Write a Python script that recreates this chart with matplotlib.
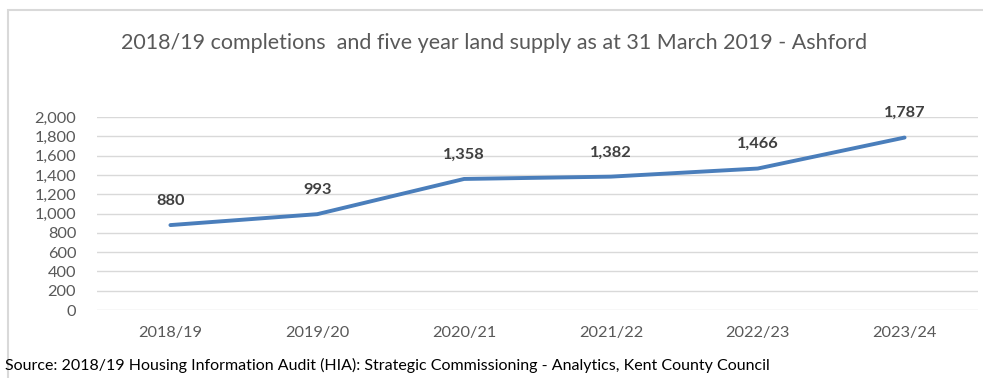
import matplotlib
matplotlib.use("Agg")
import matplotlib.pyplot as plt
from matplotlib.patches import Rectangle

plt.rcParams['font.family'] = ['Lato', 'DejaVu Sans']

categories = ["2018/19", "2019/20", "2020/21", "2021/22", "2022/23", "2023/24"]
values = [880, 993, 1358, 1382, 1466, 1787]
y_ticks = [0, 200, 400, 600, 800, 1000, 1200, 1400, 1600, 1800, 2000]
title = "2018/19 completions  and five year land supply as at 31 March 2019 - Ashford"
source = "Source: 2018/19 Housing Information Audit (HIA): Strategic Commissioning - Analytics, Kent County Council"

W, H = 983, 378
fig = plt.figure(figsize=(W / 100, H / 100), dpi=100)
fig.patch.set_facecolor("white")

# chart frame (open to the right and bottom)
top = 1 - 10 / H
fig.add_artist(Rectangle((8 / W, -0.5), 1.5, top + 0.5,
                         transform=fig.transFigure, fill=False,
                         edgecolor="#d9d9d9", linewidth=1.5))

ax = fig.add_axes([97 / W, 1 - 310 / H, (978 - 97) / W, (310 - 117) / H])
x = list(range(len(categories)))
ax.plot(x, values, color="#4a7ebb", linewidth=2.8, solid_capstyle="round",
        solid_joinstyle="round", zorder=3)

for xi, v in zip(x, values):
    ax.annotate(f"{v:,}", (xi, v), xytext=(0, 17.5), textcoords="offset points",
                ha="center", va="center", fontsize=11.8, fontweight="bold",
                color="#404040", annotation_clip=False)

ax.set_xlim(-0.5, len(categories) - 0.5)
ax.set_ylim(0, 2000)
ax.set_yticks(y_ticks)
ax.set_yticklabels([f"{t:,}" for t in y_ticks])
ax.set_xticks(x)
ax.set_xticklabels(categories)
ax.grid(axis="y", color="#d9d9d9", linewidth=1.0)
ax.set_axisbelow(True)
for s in ax.spines.values():
    s.set_visible(False)
ax.tick_params(axis="both", length=0, colors="#595959", labelsize=11.8)
ax.tick_params(axis="y", pad=15)
ax.tick_params(axis="x", pad=11.5)

fig.text(494 / W, 1 - 43 / H, title, ha="center", va="center", fontsize=15.5,
         color="#595959")
fig.text(5 / W, 1 - 365 / H, source, ha="left", va="center", fontsize=11.5,
         color="#000000")

fig.savefig("out.png", dpi=100)
